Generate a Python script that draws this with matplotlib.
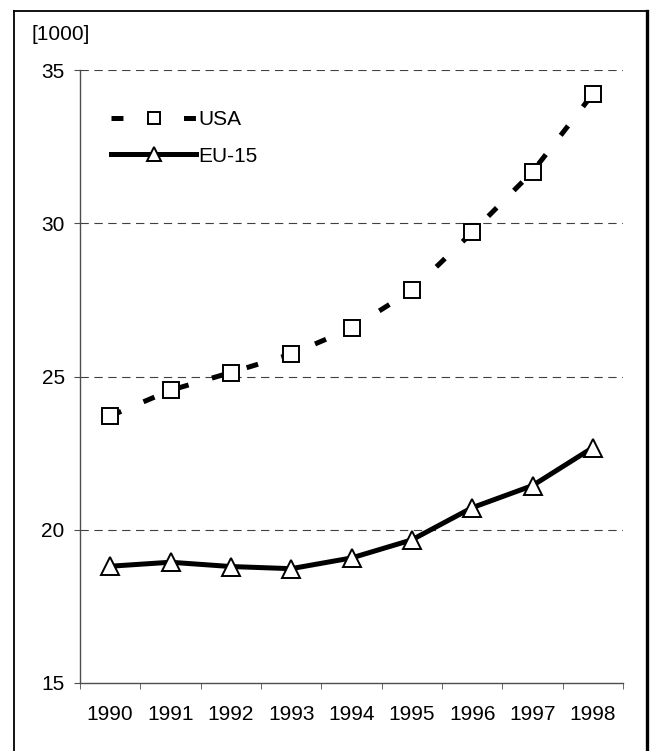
import matplotlib
matplotlib.use("Agg")
import matplotlib.pyplot as plt
from matplotlib.lines import Line2D

plt.rcParams['font.family'] = ['Liberation Sans', 'DejaVu Sans']
plt.rcParams['lines.scale_dashes'] = False

years = ["1990", "1991", "1992", "1993", "1994", "1995", "1996", "1997", "1998"]
usa = [23.71, 24.55, 25.13, 25.73, 26.57, 27.81, 29.70, 31.68, 34.22]
eu15 = [18.81, 18.94, 18.80, 18.73, 19.08, 19.67, 20.72, 21.44, 22.68]

W, H = 653, 751
fig = plt.figure(figsize=(W / 100, H / 100), dpi=100)
ax = fig.add_axes([80 / W, 1 - 683 / H, 543 / W, 613 / H])

x = list(range(len(years)))

ax.plot(x, usa, color="black", linewidth=3.6, dashes=(8.6, 17.5),
        marker="s", markersize=11, markerfacecolor="white",
        markeredgecolor="black", markeredgewidth=1.4, label="USA")
ax.plot(x, eu15, color="black", linewidth=3.6, solid_joinstyle="miter",
        marker="^", markersize=13, markerfacecolor="white",
        markeredgecolor="black", markeredgewidth=1.4, label="EU-15")

ax.set_xlim(-0.5, len(years) - 0.5)
ax.set_ylim(15, 35)
ax.set_yticks([15, 20, 25, 30, 35])
ax.set_xticks(x)
ax.set_xticklabels(years)
ax.set_xticks([i - 0.5 for i in range(len(years) + 1)], minor=True)
ax.tick_params(axis="x", which="major", length=0, pad=16, labelsize=15)
ax.tick_params(axis="x", which="minor", length=4, direction="out", color="0.3")
ax.tick_params(axis="y", length=4, direction="out", color="0.3", labelsize=15, pad=7)

for v in [20, 25, 30, 35]:
    ax.axhline(v, color="0.25", linewidth=0.8, dashes=(6, 4), zorder=0)

for s in ["top", "right"]:
    ax.spines[s].set_visible(False)
for s in ["left", "bottom"]:
    ax.spines[s].set_color("0.3")
    ax.spines[s].set_linewidth(1.0)

fig.text(61 / W, 1 - 35 / H, "[1000]", fontsize=15, ha="center", va="center")

leg = ax.legend(loc="upper left", bbox_to_anchor=(31 / 543, 1 - 40 / 613),
                frameon=False, fontsize=15, handlelength=4.1, handletextpad=0.1,
                labelspacing=0.84, borderaxespad=0, borderpad=0, markerscale=0.8)

# outer frame: thin top/left, heavier right edge, open at the bottom
fig.lines.append(Line2D([14 / W, 14 / W], [0, 1 - 11 / H], transform=fig.transFigure,
                        color="black", linewidth=1.3))
fig.lines.append(Line2D([14 / W, 647 / W], [1 - 11 / H, 1 - 11 / H],
                        transform=fig.transFigure, color="black", linewidth=1.3))
fig.lines.append(Line2D([647 / W, 647 / W], [0, 1 - 11 / H], transform=fig.transFigure,
                        color="black", linewidth=2.4))

fig.savefig("out.png", dpi=100)
